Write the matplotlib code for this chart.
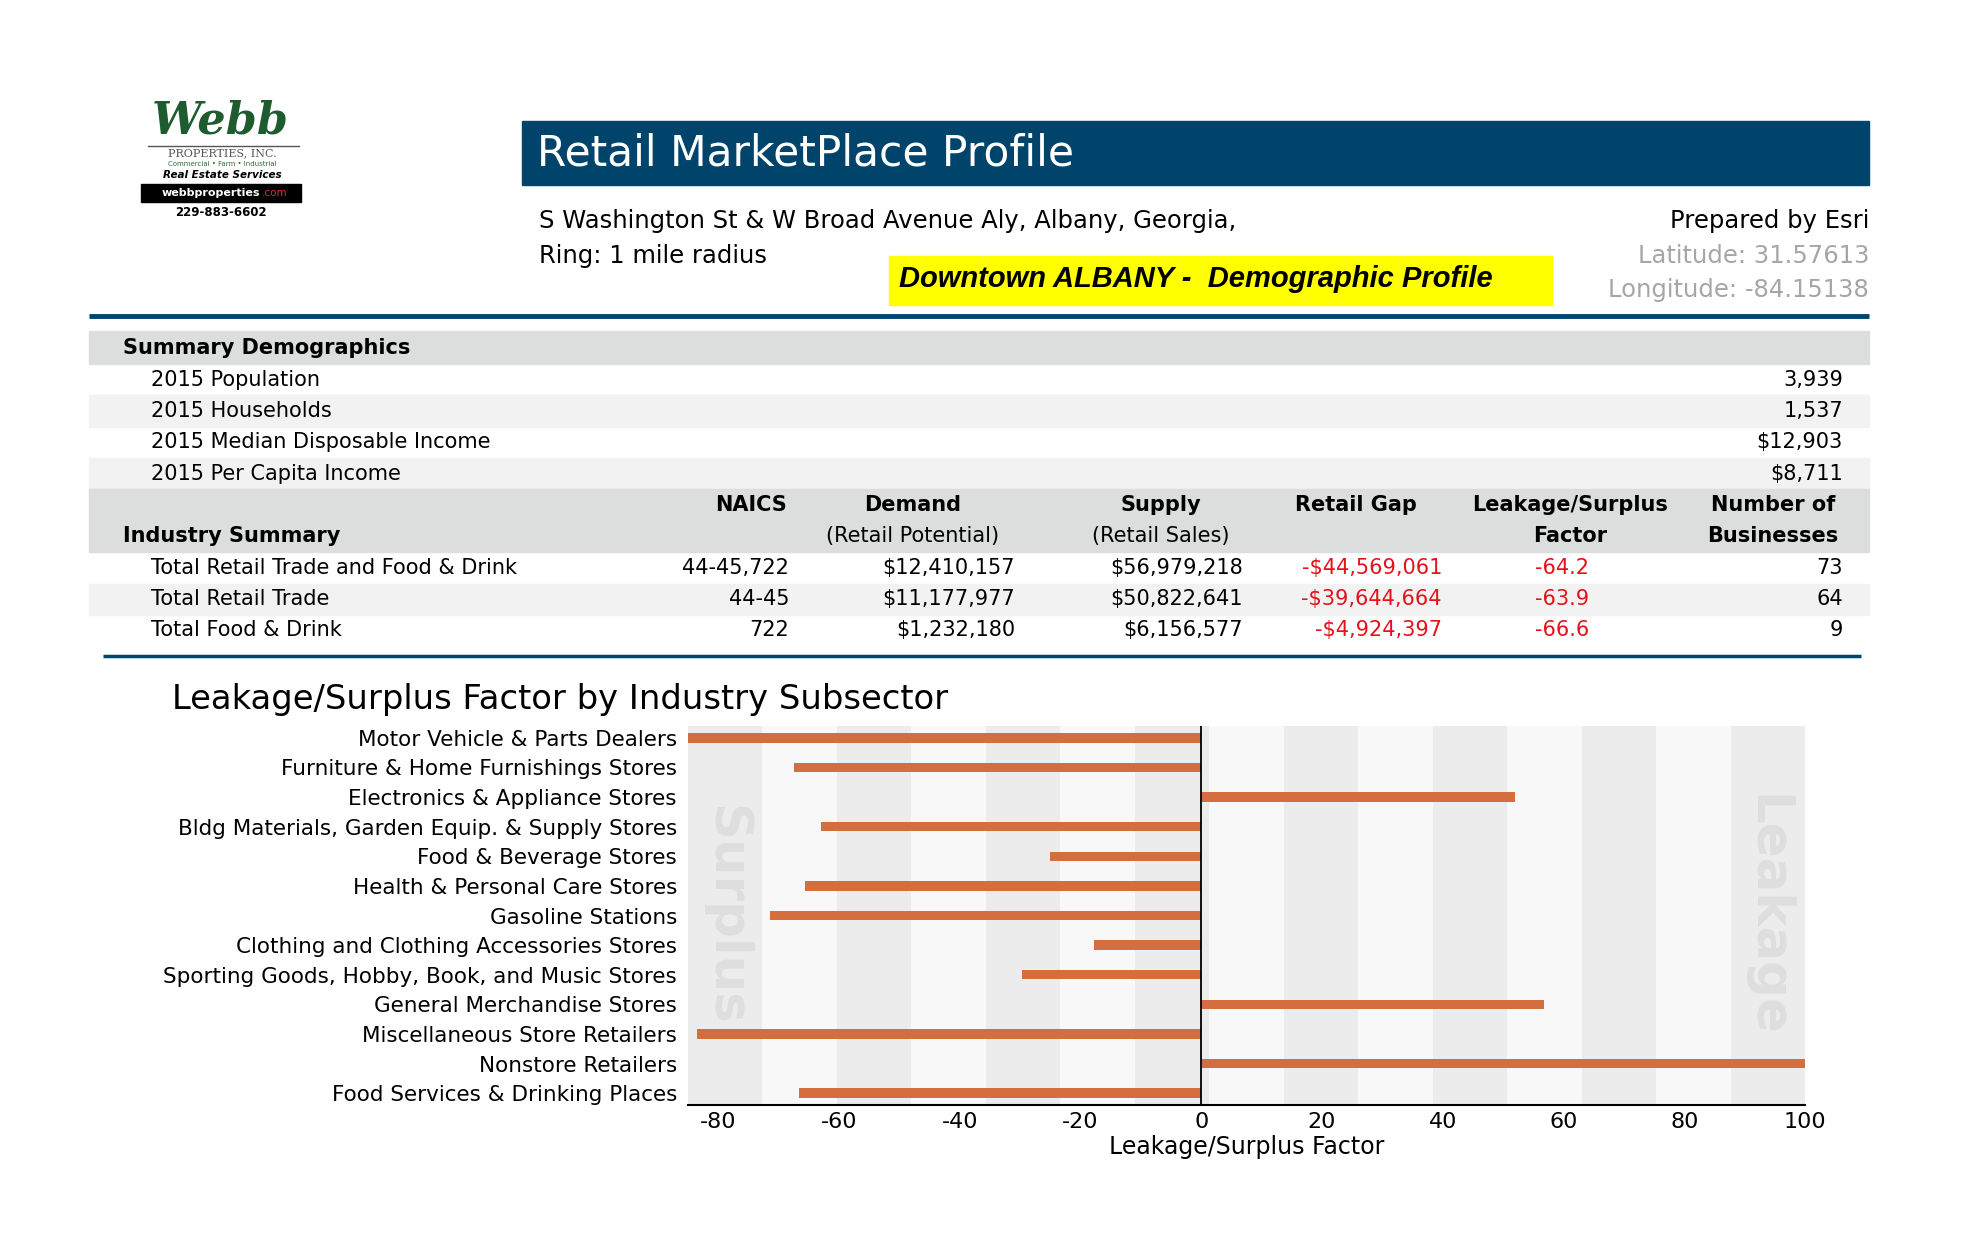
import numpy as np
import matplotlib.pyplot as plt
from matplotlib.patches import Rectangle

W, H = 1969, 1250

# header text
report_title = "Retail MarketPlace Profile"
address = "S Washington St & W Broad Avenue Aly, Albany, Georgia,"
ring = "Ring: 1 mile radius"
banner_note = "Downtown ALBANY -  Demographic Profile"
prepared_by = "Prepared by Esri"
latitude = "Latitude: 31.57613"
longitude = "Longitude: -84.15138"

# summary demographics
demo_labels = ["2015 Population", "2015 Households",
               "2015 Median Disposable Income", "2015 Per Capita Income"]
demo_values = ["3,939", "1,537", "$12,903", "$8,711"]

# industry summary
industry_labels = ["Total Retail Trade and Food & Drink", "Total Retail Trade", "Total Food & Drink"]
naics = ["44-45,722", "44-45", "722"]
demand = [12410157, 11177977, 1232180]
supply = [56979218, 50822641, 6156577]
retail_gap = [-44569061, -39644664, -4924397]
gap_factor = [-64.2, -63.9, -66.6]
businesses = [73, 64, 9]

# chart data
subsectors = ["Motor Vehicle & Parts Dealers", "Furniture & Home Furnishings Stores",
              "Electronics & Appliance Stores", "Bldg Materials, Garden Equip. & Supply Stores",
              "Food & Beverage Stores", "Health & Personal Care Stores", "Gasoline Stations",
              "Clothing and Clothing Accessories Stores", "Sporting Goods, Hobby, Book, and Music Stores",
              "General Merchandise Stores", "Miscellaneous Store Retailers", "Nonstore Retailers",
              "Food Services & Drinking Places"]
subsector_factor = [-86.0, -67.5, 52.0, -62.9, -25.0, -65.6, -71.4, -17.8, -29.6, 56.7, -83.5, 100.0, -66.6]
x_ticks = [-80, -60, -40, -20, 0, 20, 40, 60, 80, 100]


def money(v):
    return ("-" if v < 0 else "") + "${:,}".format(abs(v))


NAVY = "#00446c"
GREY_HDR = "#dcdddd"
GREY_ROW = "#f2f2f2"
RED = "#e3121b"
BAR = "#d46e3e"
HDR_FS = 17.5

fig = plt.figure(figsize=(W / 100, H / 100), dpi=100)
fig.patch.set_facecolor("white")
bg = fig.add_axes([0, 0, 1, 1])
bg.set_xlim(0, W)
bg.set_ylim(H, 0)
bg.axis("off")

# --- logo ---
bg.text(220, 121, "Webb", family="DejaVu Serif", style="italic", weight="bold",
        fontsize=32, color="#1e5b2e", ha="center", va="center")
bg.plot([148, 299], [146, 146], color="#555555", lw=1)
bg.text(222, 153, "PROPERTIES, INC.", family="DejaVu Serif", fontsize=8, color="#555555",
        ha="center", va="center")
bg.text(222, 164, "Commercial \u2022 Farm \u2022 Industrial", fontsize=5, color="#2e6b3a",
        ha="center", va="center")
bg.text(222, 175, "Real Estate Services", style="italic", weight="bold", fontsize=7.5,
        ha="center", va="center")
bg.add_patch(Rectangle((141, 184), 160, 18, color="black"))
bg.text(260, 193, "webbproperties", color="white", weight="bold", fontsize=8,
        ha="right", va="center")
bg.text(262, 193, ".com", color="#e03030", fontsize=7.5, ha="left", va="center")
bg.text(221, 212, "229-883-6602", weight="bold", fontsize=8.5, ha="center", va="center")

# --- title banner ---
bg.add_patch(Rectangle((522, 121), 1347, 64, color=NAVY))
bg.text(537, 154, report_title, color="white", fontsize=30.5, ha="left", va="center")

bg.text(539, 221, address, fontsize=HDR_FS, ha="left", va="center")
bg.text(539, 256, ring, fontsize=HDR_FS, ha="left", va="center")
bg.text(1869, 221, prepared_by, fontsize=HDR_FS, ha="right", va="center")
bg.text(1869, 256, latitude, fontsize=HDR_FS, ha="right", va="center", color="#a6a6a6")
bg.text(1869, 290, longitude, fontsize=HDR_FS, ha="right", va="center", color="#a6a6a6")

bg.add_patch(Rectangle((889, 256), 663, 49, color="#ffff00"))
bg.text(899, 279, banner_note, family="Liberation Sans", style="italic", weight="bold",
        fontsize=21, ha="left", va="center")

bg.plot([89, 1869], [316, 316], color=NAVY, lw=3.5, solid_capstyle="butt")

# --- summary table ---
row_h = 31.3
top = 331
bg.add_patch(Rectangle((89, top), 1780, 33, color=GREY_HDR))
bg.text(123, top + 17, "Summary Demographics", weight="bold", fontsize=15, ha="left", va="center")
y0 = top + 33
for i, (lab, val) in enumerate(zip(demo_labels, demo_values)):
    y = y0 + i * row_h
    if i % 2 == 1:
        bg.add_patch(Rectangle((89, y), 1780, row_h, color=GREY_ROW))
    bg.text(151, y + row_h / 2, lab, fontsize=15, ha="left", va="center")
    bg.text(1843, y + row_h / 2, val, fontsize=15, ha="right", va="center")

hdr_top = y0 + len(demo_labels) * row_h
hdr_h = 63
bg.add_patch(Rectangle((89, hdr_top), 1780, hdr_h, color=GREY_HDR))
l1 = hdr_top + 16
l2 = hdr_top + 47
bg.text(123, l2, "Industry Summary", weight="bold", fontsize=15, ha="left", va="center")
col_heads = [(751, "NAICS", None), (913, "Demand", "(Retail Potential)"),
             (1161, "Supply", "(Retail Sales)"), (1356, "Retail Gap", None),
             (1570, "Leakage/Surplus", "Factor"), (1773, "Number of", "Businesses")]
for cx, a, b in col_heads:
    bg.text(cx, l1, a, weight="bold", fontsize=15, ha="center", va="center")
    if b is not None:
        bold = b in ("Factor", "Businesses")
        bg.text(cx, l2, b, weight="bold" if bold else "normal", fontsize=15,
                ha="center", va="center")

r0 = hdr_top + hdr_h
for i in range(len(industry_labels)):
    y = r0 + i * row_h
    if i % 2 == 1:
        bg.add_patch(Rectangle((89, y), 1780, row_h, color=GREY_ROW))
    yc = y + row_h / 2
    bg.text(151, yc, industry_labels[i], fontsize=15, ha="left", va="center")
    bg.text(789, yc, naics[i], fontsize=15, ha="right", va="center")
    bg.text(1015, yc, money(demand[i]), fontsize=15, ha="right", va="center")
    bg.text(1243, yc, money(supply[i]), fontsize=15, ha="right", va="center")
    bg.text(1442, yc, money(retail_gap[i]), fontsize=15, ha="right", va="center", color=RED)
    bg.text(1589, yc, f"{gap_factor[i]:.1f}", fontsize=15, ha="right", va="center", color=RED)
    bg.text(1843, yc, str(businesses[i]), fontsize=15, ha="right", va="center")

bg.plot([103, 1861], [656, 656], color=NAVY, lw=2.5, solid_capstyle="butt")

# --- chart ---
bg.text(172, 699, "Leakage/Surplus Factor by Industry Subsector", fontsize=24.3,
        ha="left", va="center")

ax = fig.add_axes([688 / W, 1 - 1105 / H, (1805 - 688) / W, (1105 - 726) / H])
xmin, xmax = -85, 100
edges = np.linspace(xmin, xmax, 16)
for i in range(len(edges) - 1):
    ax.axvspan(edges[i], edges[i + 1], color="#ececec" if i % 2 == 0 else "#f8f8f8",
               lw=0, zorder=0)

ypos = np.arange(len(subsectors))
ax.barh(ypos, subsector_factor, height=0.32, color=BAR, zorder=3)
ax.axvline(0, color="black", lw=1.3, zorder=4)

mid = (len(subsectors) - 1) / 2
ax.text(-78.8, mid, "Surplus", rotation=-90, fontsize=37, weight="bold", color="#dedede",
        ha="center", va="center", zorder=1)
ax.text(93.5, mid, "Leakage", rotation=-90, fontsize=37, weight="bold", color="#dedede",
        ha="center", va="center", zorder=1)

ax.set_xlim(xmin, xmax)
ax.set_ylim(len(subsectors) - 0.6, -0.4)
ax.set_yticks(ypos)
ax.set_yticklabels(subsectors, fontsize=15.5)
ax.set_xticks(x_ticks)
ax.set_xticklabels([str(t) for t in x_ticks], fontsize=16)
ax.tick_params(axis="both", length=0)
ax.tick_params(axis="y", pad=8)
ax.tick_params(axis="x", pad=5)
for s in ("top", "left", "right"):
    ax.spines[s].set_visible(False)
ax.spines["bottom"].set_linewidth(1.5)
ax.set_xlabel("Leakage/Surplus Factor", fontsize=17, labelpad=2)

fig.savefig("out.png", dpi=100, facecolor="white")
